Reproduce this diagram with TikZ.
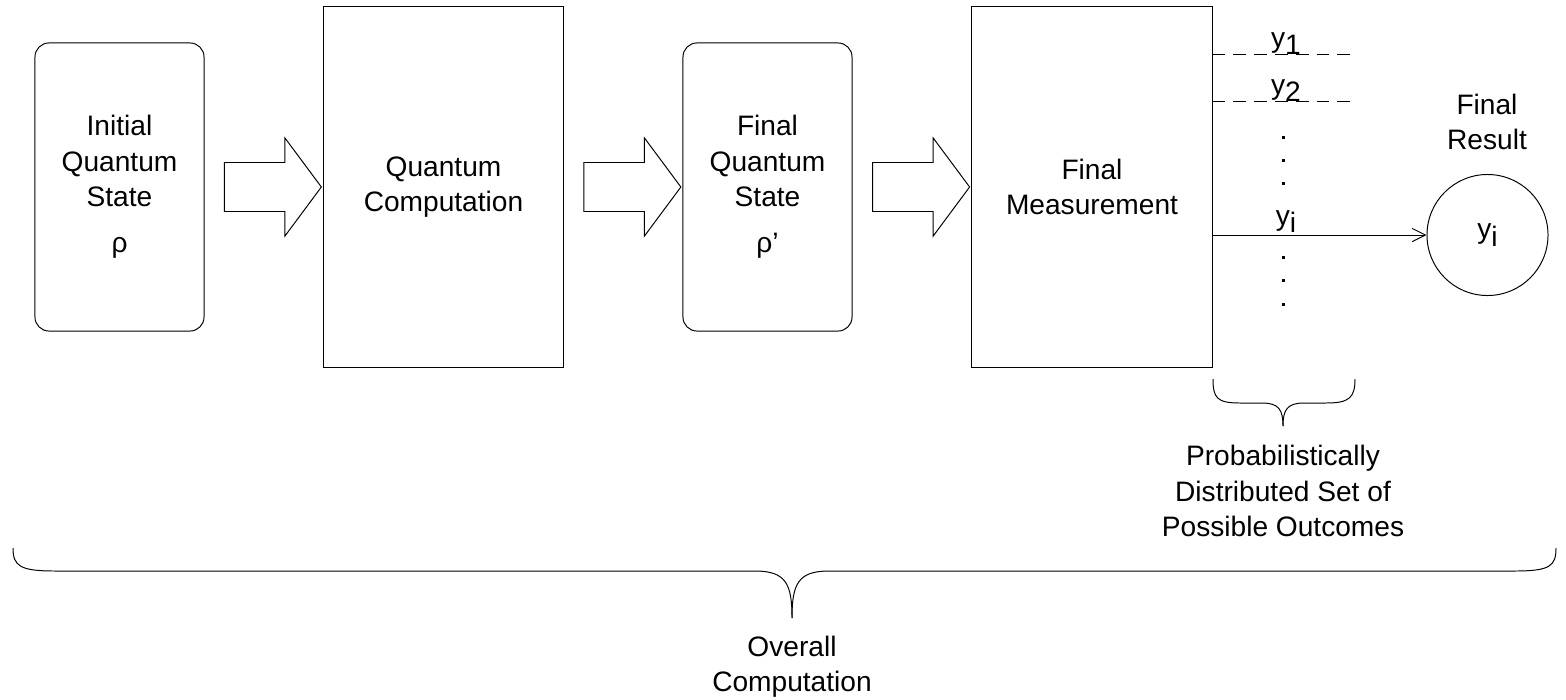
\documentclass[tikz,border=0pt]{standalone}
\usepackage{fontspec}
\setmainfont{Liberation Sans}
\usepackage{tikz}
\usetikzlibrary{arrows.meta,calc,positioning,shapes.arrows}
\definecolor{pen}{HTML}{000000}
\newcommand{\ysub}[1]{y\raisebox{-5.5pt}{#1}}

\begin{document}
\begin{tikzpicture}[x=0.025cm,y=-0.025cm,font=\fontsize{20}{25}\selectfont,line width=0.7pt,
  stage/.style={draw=pen,inner sep=0pt,align=center,minimum width=6cm,minimum height=9cm},
  state/.style={stage,rounded corners=0.35cm,minimum width=4.225cm,minimum height=7.2cm},
  flow/.style={draw=pen,shape=single arrow,inner xsep=0pt,inner ysep=0.6cm,minimum height=2.425cm,
    single arrow head extend=0.6125cm,single arrow tip angle=106.8},
  outcome/.style={draw=pen,dash pattern=on 0.32cm off 0.2cm},
  pick/.style={draw=pen,-{Straight Barb[length=3.3mm,width=3.3mm]}}]
\useasboundingbox (0,0) rectangle (1566,699);
% the four stages
\node[state] (init) at (119.5,187) {Initial\\Quantum\\State\\[8pt]ρ};
\node[stage] (comp) at (443.5,187) {Quantum\\Computation};
\node[state] (fstate) at (767.5,187) {Final\\Quantum\\State\\[8pt]ρ'};
\node[stage] (meas) at (1092,187) {Final\\Measurement};
% block arrows between them
\node[flow] (arr1) at ($(init.east)!0.5!(comp.west)$) {};
\node[flow] (arr2) at ($(comp.east)!0.5!(fstate.west)$) {};
\node[flow] (arr3) at ($(fstate.east)!0.5!(meas.west)$) {};
% outcomes of the measurement
\node[draw=pen,circle,inner sep=0pt,minimum size=3.025cm] (res) at (1487.5,235) {\ysub{i}};
\node[align=center] (restitle) at (1487,122) {Final\\Result};
\coordinate (o1) at (1356,54);
\coordinate (o2) at (1356,101);
\draw[outcome] (meas.east |- o1) -- (o1);
\draw[outcome] (meas.east |- o2) -- (o2);
\draw[pick] (meas.east |- res.west) -- (res.west);
\node[anchor=base] (lab1) at (1286,47) {\ysub{1}};
\node[anchor=base] (lab2) at (1286,94) {\ysub{2}};
\node[anchor=base] (labi) at (1286,225) {\ysub{i}};
\foreach \yy in {137,160,183,257,280,304} {\fill[pen] (1281.5,\yy-1.5) rectangle ++(3,3);}
% braces
\draw[pen] (1213,379) .. controls (1213,398) and (1217,403) .. (1240,403) -- (1262,403) .. controls (1279,403) and (1283,410) .. (1283,426);
\draw[pen] (1283,426) .. controls (1283,410) and (1287,403) .. (1304,403) -- (1326,403) .. controls (1349,403) and (1355,398) .. (1355,379);
\node[align=center] (setlab) at (1283,491) {Probabilistically\\Distributed Set of\\Possible Outcomes};
\draw[pen] (13,548) .. controls (13,566) and (20,571) .. (55,571) -- (755,571) .. controls (786,571) and (792,584) .. (792,618);
\draw[pen] (792,618) .. controls (792,584) and (798,571) .. (829,571) -- (1515,571) .. controls (1550,571) and (1556,566) .. (1556,548);
\node[align=center] (alllab) at (792,667) {Overall\\Computation};
\end{tikzpicture}
\end{document}
